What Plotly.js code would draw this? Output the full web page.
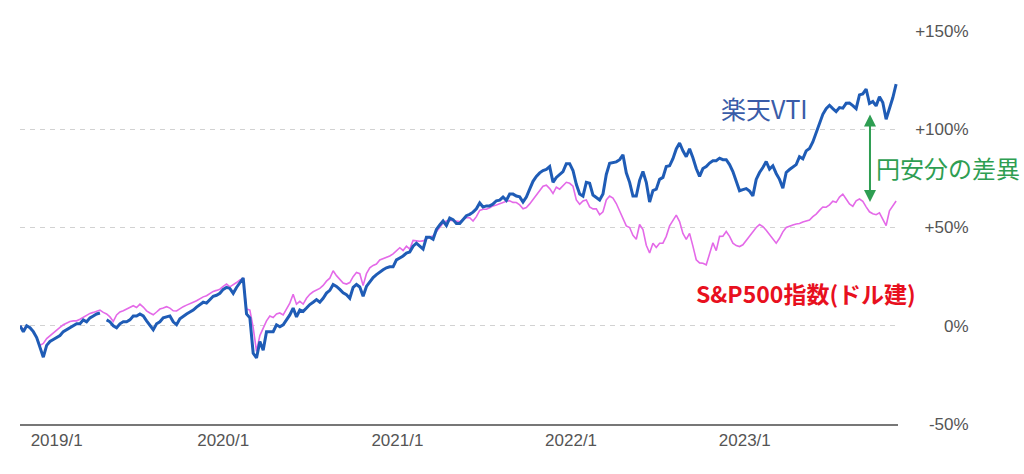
<!DOCTYPE html>
<html>
<head>
<meta charset="utf-8">
<script src="https://cdn.plot.ly/plotly-3.0.1.min.js"></script>
<style>
  html, body { margin: 0; padding: 0; background: #fff; }
  #chart { width: 1024px; height: 474px; }
</style>
</head>
<body>
<div id="chart"></div>
<script>
// weekly closes, % return since start
const startDate = "2018-10-31";

// 楽天VTI (yen based)
const vti = [
  0, -3, 0, -1, -3, -6, -11, -16, -10, -8,
  -7, -6, -5, -3, -2, -1, 0, 1, 1, 3,
  2, 4, 5, 6, 6.5, null, 3, 2, 0, -1,
  1, 2, 2, 3, 5, 5, 6, 5, 2.5, 0,
  -2, 1, 2, 4, 4.5, 5, 2, 0.5, 3.5, 5,
  6, 7, 8, 9.5, 11, 12, 11.5, 13, 15, 15.5,
  16.5, 18.5, 19.5, 19, 16.5, 19.5, 22, 24.3, 6, 4,
  -14, -16.4, -8, -12.5, -3, -3, -3, 0.5, -0.5, 0.5,
  3, 5.5, 9, 4.5, 8, 7.3, 9, 10.8, 12, 13.3,
  12, 14, 16.6, 18, 21, 20, 18.5, 16.8, 15.8, 14,
  19.5, 21, 19.7, 15, 20, 22.5, 24.5, 26, 27.5, 28.5,
  29.5, 30, 30, 33.5, 34.5, 35.5, 37, 37.5, 40.5, 42,
  40.5, 39, 45, 45, 44, 49, 51.3, 53.3, 51, 54.8,
  54, 52, 52, 54, 56, 56.7, 57.8, 59.5, 62.5, 60.4,
  61, 61, 62, 63.6, 63.9, 65.5, 63.8, 67, 67, 66,
  65.6, 63, 65.5, 69.5, 73.5, 76, 77.8, 79, 79.6, 81,
  73, 75.5, 77, 78.5, 82.5, 82.5, 79, 72, 67, 66,
  73, 72.5, 66.5, 65, 64, 67, 77, 82.7, 83, 83.4,
  84.5, 87, 77.8, 73, 66, 66, 74, 78.5, 73, 63,
  68.8, 69.5, 74.5, 75.5, 81, 81.4, 85, 90, 93, 89,
  86, 90, 85.5, 80, 76, 80, 81, 82.8, 84, 84,
  85.3, 84.5, 84.5, 82, 78.5, 74, 68.7, 69.3, 69.8, 68.5,
  66.1, 74.5, 78, 80.5, 83.6, 79.7, 81.4, 77.5, 74.5, 70,
  78, 79.5, 81, 82, 86, 85, 89, 90.2, 93.5, 98,
  102.5, 107.6, 110.5, 112.2, 110.5, 109, 111, 110.7, 113.2, 113.3,
  112, 110.5, 117.5, 118, 120.5, 113.1, 114.1, 111.9, 116.5, 113.6,
  105.1, 110, 116, 123
];

// S&P500 index (dollar based)
const sp500 = [
  0, -2, 0, -1, -3, -6, -10, -9, -6.5, -5,
  -3.4, -2, -0.8, 0.5, 1.5, 2.2, 2.5, 2.5, 3.3, 4.2,
  5.5, 6.3, 6.8, 7.4, 8, 6.8, 6, 4.5, 2.2, 5.5,
  7, 7.6, 8.5, 9.4, 10.2, 9.3, 11, 9.5, 7.6, 6.5,
  5.6, 7, 8.5, 9, 9.7, 9, 7.6, 7.5, 8.8, 9.7,
  10.5, 11.4, 12, 12.7, 13.8, 14.7, 15.3, 16.3, 17.5, 18,
  18.6, 20, 21.2, 19.8, 20.7, 22, 23.3, 24, 8.5, 8,
  -1, -13, -5, -1, 2.5, 5, 4.2, 6, 6.5, 5.5,
  8.3, 11.5, 16, 11, 12.4, 11, 14, 16, 17.3, 18,
  19, 20.5, 22.7, 24.2, 28, 25.5, 23.5, 21.7, 21.2, 22,
  25, 27.1, 26.5, 20.5, 26.5, 29.5, 30.7, 31.4, 33.5, 34.1,
  35, 35.5, 36.6, 38, 39.7, 38.3, 40.5, 39, 43.4, 43.2,
  43, 43.2, 44.2, 45.2, 45.7, 47.8, 50.5, 52.3, 53.3, 53.7,
  53.4, 53.2, 53, 54, 55, 55, 53.3, 55.5, 58.7, 59.3,
  59.3, 60, 61, 61.5, 62.2, 62.7, 63.4, 63.6, 62.8, 62.7,
  61.5, 59.5, 60.2, 62, 64.2, 66.5, 68.7, 71, 71.5, 69.8,
  67.3, 70.5, 69.5, 71, 73, 72.5, 71, 64, 61.8, 63.5,
  64, 60.5, 59.5, 59.5, 56.5, 58, 64, 66, 65, 62.2,
  58.5, 55, 50.8, 50, 46, 44, 51.5, 49, 41, 37,
  42, 39.8, 42, 42, 45.5, 50.8, 53.4, 56.3, 53, 47,
  44, 47, 40.5, 33.6, 32, 31.8, 31, 36.5, 42.2, 38.2,
  45.5, 45.6, 48, 45.5, 42, 40.8, 40.3, 41.2, 43.5, 45.5,
  47.5, 50, 51.5, 50.5, 48.6, 46.3, 44.1, 42, 44.5, 47.8,
  50, 50.8, 51.3, 51.8, 52, 52.8, 53.5, 53.8, 55.5, 56.8,
  58.7, 60.4, 60.3, 61.5, 63.4, 62.8, 65.5, 67, 64.5, 62,
  60.8, 63.6, 64.5, 63.3, 60.5, 58, 57, 56.5, 57.5, 54,
  51, 58.5, 61, 63.5
];

const xTickDates = ["2019-01-16", "2020-01-01", "2021-01-01", "2022-01-01", "2023-01-01"];
const xTickText = ["2019/1", "2020/1", "2021/1", "2022/1", "2023/1"];
const yTickVals = [-50, 0, 50, 100, 150];
const yTickText = ["-50%", "0%", "+50%", "+100%", "+150%"];

function weeklyDates(start, n) {
  const out = [];
  const t0 = Date.parse(start + "T00:00:00Z");
  for (let i = 0; i < n; i++) out.push(new Date(t0 + i * 7 * 86400000).toISOString().slice(0, 10));
  return out;
}

const dates = weeklyDates(startDate, vti.length);

const jp = '"Noto Sans CJK JP", "Noto Sans", sans-serif';

Plotly.newPlot("chart", [
  {
    x: dates, y: sp500, type: "scatter", mode: "lines", name: "S&P500指数(ドル建)",
    line: { color: "#e46ae8", width: 1.6 }, connectgaps: false
  },
  {
    x: dates, y: vti, type: "scatter", mode: "lines", name: "楽天VTI",
    line: { color: "#1f5cb6", width: 3 }, connectgaps: false
  }
], {
  width: 1024, height: 474,
  margin: { l: 20, r: 20, t: 31, b: 50 },
  paper_bgcolor: "#fff", plot_bgcolor: "#fff",
  showlegend: false,
  font: { family: '"Liberation Sans", Arial, sans-serif', size: 17, color: "#555" },
  xaxis: {
    type: "date", domain: [0, 0.8923], range: ["2018-10-31", "2023-11-19"],
    tickvals: xTickDates, ticktext: xTickText,
    ticks: "", showgrid: false, zeroline: false,
    showline: true, linecolor: "#777", linewidth: 1.5,
    tickfont: { size: 17, color: "#555" }
  },
  yaxis: {
    range: [-50, 150], tickvals: yTickVals, ticktext: yTickText,
    anchor: "free", position: 0.964, side: "left",
    showgrid: true, gridcolor: "#d2d2d2", griddash: "5px,5px", gridwidth: 1,
    zeroline: false, showline: false, ticks: "",
    tickfont: { size: 17, color: "#555" }
  },
  annotations: [
    { xref: "paper", yref: "paper", x: 0.7566, y: 0.8041, xanchor: "center", yanchor: "middle",
      text: "楽天VTI", showarrow: false,
      font: { family: jp, size: 25, color: "#3a5ca8" } },
    { xref: "paper", yref: "paper", x: 0.9426, y: 0.6514, xanchor: "center", yanchor: "middle",
      text: "円安分の差異", showarrow: false,
      font: { family: jp, size: 24, color: "#2e9e52" } },
    { xref: "paper", yref: "paper", x: 0.7983, y: 0.3333, xanchor: "center", yanchor: "middle",
      text: "<b>S&amp;P500指数(ドル建)</b>", showarrow: false,
      font: { family: jp, size: 23, color: "#e8101e" } },
    { xref: "paper", yref: "paper", x: 0.8638, y: 0.5649, ax: 0, ay: -89, text: "",
      showarrow: true, arrowside: "end+start", arrowhead: 2, arrowsize: 1.2, arrowwidth: 2, arrowcolor: "#2e9e52" }
  ]
}, { displayModeBar: false, responsive: false });
</script>
</body>
</html>
